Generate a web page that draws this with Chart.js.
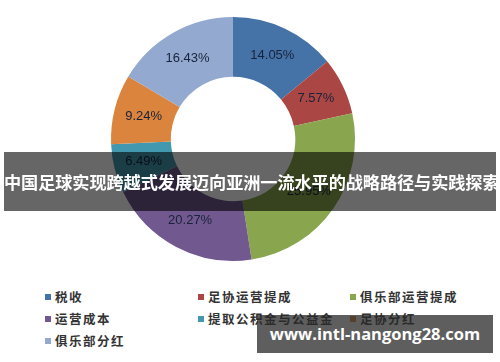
<!DOCTYPE html>
<html>
<head>
<meta charset="utf-8">
<script src="https://cdn.jsdelivr.net/npm/chart.js@4"></script>
<style>
    body { margin: 0; background: #fff; }
    #wrap { position: relative; width: 500px; height: 362px; overflow: hidden; font-family: "Noto Sans CJK SC", sans-serif; }
    #chartBox { position: absolute; left: 0; top: 0; width: 500px; height: 280px; }
    #legend { position: absolute; left: 0; top: 287px; width: 500px; }
    .item { position: absolute; font-size: 12.5px; font-weight: bold; color: #333; letter-spacing: 1.5px; white-space: nowrap; line-height: 20px; }
    .item i { display: inline-block; width: 6px; height: 6px; margin-right: 4px; vertical-align: 2px; }
    #banner { position: absolute; left: 4px; top: 152px; width: 492px; height: 59px; background: rgba(0,0,0,0.6); overflow: hidden;
        color: #fff; font-weight: bold; font-size: 17.2px; line-height: 59px; text-align: center; white-space: nowrap; letter-spacing: -0.1px; }
    #mark { position: absolute; left: 257px; top: 315px; width: 236px; height: 38px; background: rgba(40,40,40,0.75);
        color: #fff; font-family: "Open Sans", sans-serif; font-weight: bold; font-size: 16.5px; line-height: 38px; text-align: center; }
</style>
</head>
<body>
<div id="wrap">
    <div id="chartBox"><canvas id="pieChart"></canvas></div>
    <div id="legend"></div>
    <div id="banner">中国足球实现跨越式发展迈向亚洲一流水平的战略路径与实践探索</div>
    <div id="mark">www.intl-nangong28.com</div>
</div>
<script>
// 收入分配构成
const labels = ['税收', '足协运营提成', '俱乐部运营提成', '运营成本', '提取公积金与公益金', '足协分红', '俱乐部分红'];
const shares = [14.05, 7.57, 25.95, 20.27, 6.49, 9.24, 16.43];
const colors = ['#4572A7', '#AA4643', '#89A54E', '#71588F', '#4198AF', '#DB843D', '#93A9CF'];

// 百分比标签
const sliceLabels = {
    id: 'sliceLabels',
    afterDatasetsDraw(chart) {
        const ctx = chart.ctx;
        const meta = chart.getDatasetMeta(0);
        ctx.save();
        ctx.font = '13px "Liberation Sans", sans-serif';
        ctx.fillStyle = '#18233b';
        ctx.textAlign = 'center';
        ctx.textBaseline = 'middle';
        meta.data.forEach(function(arc, i) {
            const p = arc.tooltipPosition();
            ctx.fillText(shares[i].toFixed(2) + '%', p.x, p.y);
        });
        ctx.restore();
    }
};

const ctx = document.getElementById('pieChart').getContext('2d');
const pieChart = new Chart(ctx, {
    type: 'doughnut',
    data: {
        labels: labels,
        datasets: [{
            data: shares,
            backgroundColor: colors,
            borderWidth: 0
        }]
    },
    options: {
        responsive: true,
        maintainAspectRatio: false,
        animation: false,
        cutout: '51%',
        layout: {
            padding: { left: 111, right: 145, top: 17, bottom: 19 }
        },
        plugins: {
            legend: { display: false },
            tooltip: { enabled: false }
        }
    },
    plugins: [sliceLabels]
});

// 图例，三列
const legendBox = document.getElementById('legend');
const colX = [45, 198, 350];
labels.forEach(function(name, i) {
    const el = document.createElement('div');
    el.className = 'item';
    el.style.left = colX[i % 3] + 'px';
    el.style.top = (Math.floor(i / 3) * 22) + 'px';
    el.innerHTML = '<i style="background:' + colors[i] + '"></i>' + name;
    legendBox.appendChild(el);
});
</script>
</body>
</html>
